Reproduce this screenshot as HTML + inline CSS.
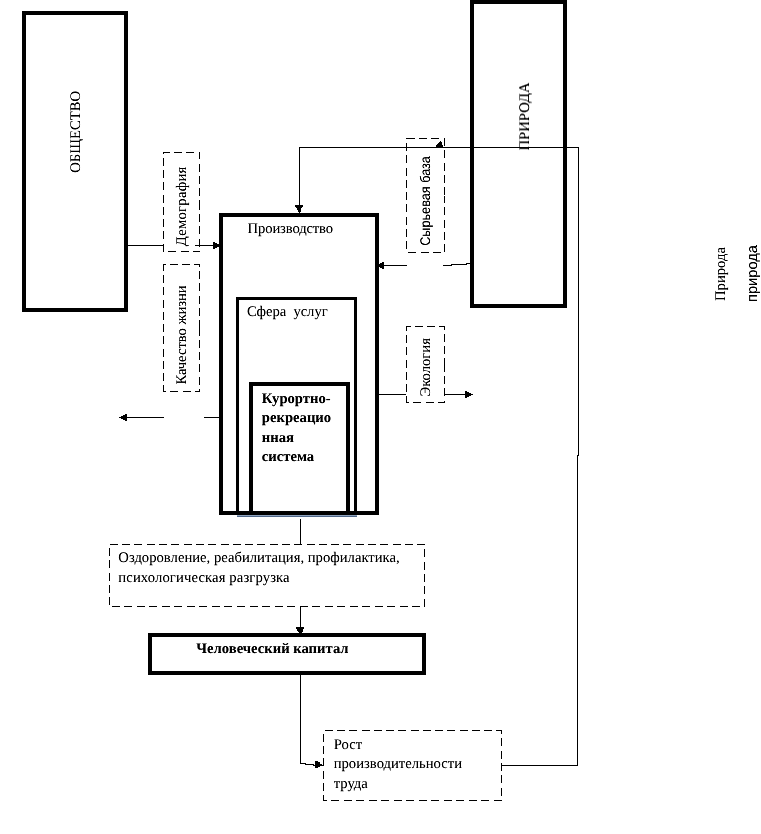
<!DOCTYPE html>
<html>
<head>
<meta charset="utf-8">
<style>
html,body{margin:0;padding:0;background:#fff;}
body{width:761px;height:834px;overflow:hidden;position:relative;}
svg{position:absolute;left:0;top:0;}
.t{filter:url(#crisp);}
.v{filter:url(#crispv);}
.s,.b,.a{text-rendering:geometricPrecision;}
.s{font-family:"Liberation Serif",serif;font-size:14.67px;fill:#000;}
.b{font-family:"Liberation Serif",serif;font-size:14.67px;font-weight:bold;fill:#000;}
.a{font-family:"Liberation Sans",sans-serif;font-size:13.33px;fill:#000;}
</style>
</head>
<body>
<svg width="761" height="834" viewBox="0 0 761 834">
<defs>
<filter id="crispv" filterUnits="userSpaceOnUse" x="0" y="0" width="761" height="834" color-interpolation-filters="sRGB">
  <feColorMatrix type="matrix" values="0 0 0 0 0  0 0 0 0 0  0 0 0 0 0  0 0 0 1 0"/>
  <feComponentTransfer><feFuncA type="linear" slope="1.4" intercept="-0.1"/></feComponentTransfer>
</filter>
<filter id="crisp" filterUnits="userSpaceOnUse" x="0" y="0" width="761" height="834" color-interpolation-filters="sRGB">
  <feColorMatrix type="matrix" values="0 0 0 0 0  0 0 0 0 0  0 0 0 0 0  0 0 0 1 0"/>
  <feComponentTransfer><feFuncA type="linear" slope="1.25" intercept="-0.05"/></feComponentTransfer>
</filter>
</defs>
<g fill="none" stroke="#000" shape-rendering="crispEdges">
  <!-- thick boxes -->
  <rect x="24" y="13" width="102" height="297" stroke-width="4"/>
  <rect x="472" y="2" width="93" height="304" stroke-width="4"/>
  <rect x="221" y="215" width="156" height="298" stroke-width="4"/>
  <rect x="237.5" y="298.5" width="118" height="215" stroke-width="3"/>
  <rect x="251" y="384" width="97" height="129" stroke-width="4"/>
  <rect x="150" y="635" width="274" height="38" stroke-width="4"/>
</g>
<!-- blue line under Сфера -->
<rect x="237" y="515" width="120" height="1" fill="#8fa3bd"/>
<rect x="237" y="516" width="120" height="1" fill="#4f6789"/>

<!-- dashed boxes -->
<g fill="none" stroke="#000" stroke-width="1" shape-rendering="crispEdges">
<!-- Демография -->
<line x1="163.0" y1="152.5" x2="200.0" y2="152.5" stroke-dasharray="8.0 4.25" stroke-dashoffset="1.15"/>
<line x1="163.0" y1="251.5" x2="200.0" y2="251.5" stroke-dasharray="8.0 4.45" stroke-dashoffset="7.35"/>
<line x1="163.5" y1="152.0" x2="163.5" y2="252.0" stroke-dasharray="8.0 4.25" stroke-dashoffset="6.35"/>
<line x1="199.5" y1="152.0" x2="199.5" y2="202.0" stroke-dasharray="8.0 4.25" stroke-dashoffset="0.75"/>
<line x1="199.5" y1="202.0" x2="199.5" y2="252.0" stroke-dasharray="8.0 4.25" stroke-dashoffset="0.20"/>
<!-- Качество -->
<line x1="163.0" y1="264.5" x2="200.0" y2="264.5" stroke-dasharray="8.0 4.25" stroke-dashoffset="5.35"/>
<line x1="163.0" y1="391.5" x2="200.0" y2="391.5" stroke-dasharray="8.0 4.50" stroke-dashoffset="5.30"/>
<line x1="163.5" y1="264.0" x2="163.5" y2="392.0" stroke-dasharray="8.0 4.25" stroke-dashoffset="1.20"/>
<line x1="199.5" y1="264.0" x2="199.5" y2="328.0" stroke-dasharray="8.0 4.25" stroke-dashoffset="5.05"/>
<line x1="199.5" y1="328.0" x2="199.5" y2="392.0" stroke-dasharray="8.0 4.25" stroke-dashoffset="0.50"/>
<!-- Сырьевая -->
<line x1="406.0" y1="138.5" x2="445.0" y2="138.5" stroke-dasharray="8.0 4.25" stroke-dashoffset="11.35"/>
<line x1="406.0" y1="252.5" x2="445.0" y2="252.5" stroke-dasharray="8.0 4.50" stroke-dashoffset="10.50"/>
<line x1="406.5" y1="138.0" x2="406.5" y2="253.0" stroke-dasharray="8.0 4.25" stroke-dashoffset="7.05"/>
<line x1="444.5" y1="138.0" x2="444.5" y2="195.5" stroke-dasharray="8.0 4.25" stroke-dashoffset="12.10"/>
<line x1="444.5" y1="195.5" x2="444.5" y2="253.0" stroke-dasharray="8.0 4.25" stroke-dashoffset="0.50"/>
<!-- Экология -->
<line x1="406.0" y1="326.5" x2="445.0" y2="326.5" stroke-dasharray="8.0 4.25" stroke-dashoffset="3.45"/>
<line x1="406.0" y1="402.5" x2="445.0" y2="402.5" stroke-dasharray="8.0 4.50" stroke-dashoffset="5.05"/>
<line x1="406.5" y1="326.0" x2="406.5" y2="403.0" stroke-dasharray="8.0 4.25" stroke-dashoffset="3.20"/>
<line x1="444.5" y1="326.0" x2="444.5" y2="364.5" stroke-dasharray="8.0 4.25" stroke-dashoffset="4.35"/>
<line x1="444.5" y1="364.5" x2="444.5" y2="403.0" stroke-dasharray="8.0 4.25" stroke-dashoffset="0.75"/>
<!-- Оздоровление -->
<line x1="109.0" y1="544.5" x2="425.0" y2="544.5" stroke-dasharray="8.0 4.29" stroke-dashoffset="11.39"/>
<line x1="109.0" y1="606.5" x2="425.0" y2="606.5" stroke-dasharray="8.0 4.51" stroke-dashoffset="9.61"/>
<line x1="109.5" y1="544.0" x2="109.5" y2="607.0" stroke-dasharray="8.0 4.25" stroke-dashoffset="8.25"/>
<line x1="424.5" y1="544.0" x2="424.5" y2="607.0" stroke-dasharray="8.0 4.30" stroke-dashoffset="7.00"/>
<!-- Рост -->
<line x1="323.0" y1="730.5" x2="502.0" y2="730.5" stroke-dasharray="8.0 4.25" stroke-dashoffset="10.35"/>
<line x1="323.0" y1="800.5" x2="502.0" y2="800.5" stroke-dasharray="8.0 4.49" stroke-dashoffset="4.25"/>
<line x1="323.5" y1="730.0" x2="323.5" y2="801.0" stroke-dasharray="8.0 4.25" stroke-dashoffset="8.35"/>
<line x1="501.5" y1="730.0" x2="501.5" y2="801.0" stroke-dasharray="8.0 4.28" stroke-dashoffset="3.85"/>
</g>

<!-- connector lines -->
<g fill="none" stroke="#000" stroke-width="1" shape-rendering="crispEdges">
  <path d="M128 245.5H163.5M195 245.5H214"/>
  <path d="M204 417.5H219M127 417.5H164"/>
  <path d="M501.5 765.5H577.5V455.5H578.5V147.5H299.5V206"/>
  <path d="M407 265.5H383M443 265.5H451V264.5H466V263.5H470"/>
  <path d="M379 394.5H406M443.5 394.5H473"/>
  <path d="M300.5 519V544M300.5 606V628M300.5 675V763.5H305V764.5H313V765.5H323"/>
</g>
<!-- arrowheads -->
<g fill="#000" stroke="none" shape-rendering="crispEdges">
  <path d="M213 242H215V249H213ZM215 243H217V248H215ZM217 244H219V247H217ZM119 417H121V418H119ZM121 416H123V419H121ZM123 415H125V420H123ZM125 414H127V421H125ZM295 205H303V207H295ZM296 207H302V208H296ZM297 208H301V210H297ZM298 210H301V212H298ZM299 212H300V213H299ZM379 264H380V267H379ZM380 263H382V268H380ZM382 262H384V269H382ZM465 391H467V398H465ZM467 392H469V397H467ZM469 393H471V396H469ZM296 627H304V629H296ZM297 629H303V631H297ZM298 631H303V632H298ZM299 632H302V633H299ZM315 761H318V768H315ZM318 762H320V767H318ZM320 764H322V766H320Z"/>
  <polygon points="435,146 441,140 443,146 443,147.5 439,147.5"/>
</g>

<!-- texts -->
<g class="v">
<text class="s" transform="translate(79.7,172.8) rotate(-90)">ОБЩЕСТВО</text>
<text class="s" transform="translate(529,150.5) rotate(-90)">ПРИРОДА</text>
<text class="s" transform="translate(186,246.2) rotate(-90)" letter-spacing="0.25">Демография</text>
<text class="s" transform="translate(186,384.6) rotate(-90)" letter-spacing="-0.05">Качество жизни</text>
<text class="a" style="font-size:14px" transform="translate(429.9,245.8) rotate(-90) scale(0.905,1)">Сырьевая база</text>
<text class="s" transform="translate(430.3,396.5) rotate(-90)">Экология</text>
<text class="s" transform="translate(725,301) rotate(-90)">Природа</text>
<text class="a" style="font-size:14.67px" transform="translate(757,302) rotate(-90)">природа</text>

</g>

<g class="t">
<text class="s" x="247.6" y="232.8" transform="rotate(0.02 247.6 232.8)" letter-spacing="-0.15">Производство</text>
<text class="s" x="246.9" y="315.8" transform="rotate(0.02 246.9 315.8)" letter-spacing="-0.06" xml:space="preserve" style="white-space:pre">Сфера  услуг</text>
<text class="b" x="261.8" y="402.8" transform="rotate(0.02 261.8 402.8)">Курортно-</text>
<text class="b" x="261.8" y="421.7" transform="rotate(0.02 261.8 421.7)">рекреацио</text>
<text class="b" x="261.8" y="441.7" transform="rotate(0.02 261.8 441.7)">нная</text>
<text class="b" x="261.8" y="460.8" transform="rotate(0.02 261.8 460.8)">система</text>
<text class="s" x="118.3" y="562" transform="rotate(0.02 118.3 562)">Оздоровление, реабилитация, профилактика,</text>
<text class="s" x="118.3" y="581.7" transform="rotate(0.02 118.3 581.7)" letter-spacing="0.12">психологическая разгрузка</text>
<text class="b" x="196.3" y="653.3" transform="rotate(0.02 196.3 653.3)">Человеческий капитал</text>
<text class="s" x="333.7" y="748.7" transform="rotate(0.02 333.7 748.7)">Рост</text>
<text class="s" x="333.7" y="768" transform="rotate(0.02 333.7 768)">производительности</text>
<text class="s" x="333.7" y="788" transform="rotate(0.02 333.7 788)">труда</text>
</g>
</svg>
</body>
</html>
